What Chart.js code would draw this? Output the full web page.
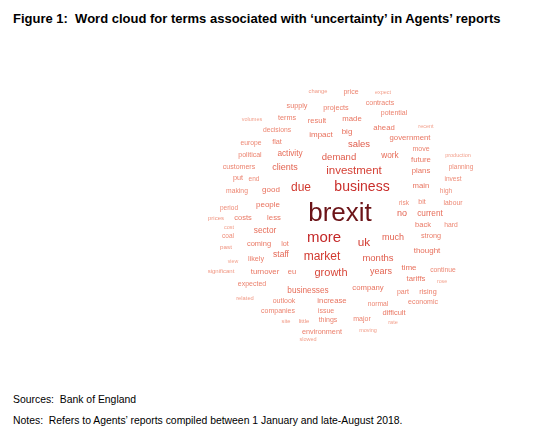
<!DOCTYPE html>
<html>
<head>
<meta charset="utf-8">
<script src="https://cdn.jsdelivr.net/npm/chart.js@4/dist/chart.umd.min.js"></script>
<style>
  body { margin: 0; background: #fff; font-family: "Liberation Sans", Arial, sans-serif; }
  #wrap { position: relative; width: 540px; height: 438px; overflow: hidden; }
  #title { position: absolute; left: 13px; top: 11px; font-size: 13px; font-weight: bold; color: #000; white-space: nowrap; }
  #cloud { position: absolute; left: 0; top: 40px; width: 540px; height: 340px; }
  .note { position: absolute; left: 13px; font-size: 10.4px; color: #000; white-space: nowrap; }
</style>
</head>
<body>
<div id="wrap">
  <div id="title">Figure 1:&nbsp; Word cloud for terms associated with ‘uncertainty’ in Agents’ reports</div>
  <div id="cloud"><canvas id="wordCloud"></canvas></div>
  <div class="note" style="top:394px">Sources:&nbsp; Bank of England</div>
  <div class="note" style="top:415px">Notes:&nbsp; Refers to Agents’ reports compiled between 1 January and late-August 2018.</div>
</div>
<script>
// terms and how often they turn up (relative weight), with their place in the cloud
const words = ["change","price","expect","supply","projects","contracts","potential","volumes","terms","result",
  "made","recent","ahead","decisions","big","impact","government","europe","flat","sales",
  "move","political","activity","production","work","demand","future","customers","clients","planning",
  "investment","plans","put","end","invest","making","good","due","business","main",
  "high","period","people","risk","bit","labour","brexit","prices","costs","less",
  "no","current","cost","back","hard","sector","coal","strong","much","more",
  "coming","lot","uk","past","thought","staff","market","months","likely","view",
  "time","continue","significant","turnover","eu","growth","years","tariffs","rose","expected",
  "businesses","company","part","rising","related","outlook","increase","normal","economic","companies",
  "issue","difficult","site","little","things","major","rate","environment","moving","slowed"];

const freq = [15,20,14,21,21,20,20,14,21,22,
  23,14,23,19,24,24,23,19,21,30,
  20,20,25,14,25,30,23,20,28,18,
  38,23,21,18,18,19,24,40,48,23,
  18,18,24,18,20,19,96,16,22,23,
  28,25,14,22,19,25,18,21,28,52,
  22,21,39,17,24,26,40,30,21,13,
  24,19,16,23,22,36,28,23,13,20,
  25,23,20,21,15,20,23,19,20,20,
  20,22,15,16,20,20,14,21,14,14];

const xPos = [-22,11,43,-43,-4,40,54,-88,-53,-23,
  12,86,44,-63,7,-19,70,-89,-63,19,
  81,-90,-50,118,50,-1,81,-101,-55,121,
  14,81,-102,-86,113,-103,-69,-39,22,81,
  106,-111,-72,64,82,113,0,-124,-97,-66,
  62,90,-111,83,111,-75,-112,91,53,-16,
  -81,-55,24,-114,87,-59,-18,38,-84,-107,
  69,103,-119,-75,-48,-9,41,76,102,-88,
  -32,28,63,88,-95,-56,-8,38,83,-62,
  -14,54,-54,-36,-12,22,53,-18,28,-32];

const yPos = [123,122,122,108,106,111,101,95,96,93,
  95,88,86,84,82,79,76,71,72,70,
  65,59,60,59,58,57,54,47,46,47,
  43,43,36,35,35,23,24,26,27,28,
  23,6,9,11,12,11,0,-4,-4,-4,
  0,0,-13,-11,-11,-17,-22,-22,-24,-24,
  -30,-30,-29,-33,-37,-41,-43,-44,-45,-48,
  -54,-56,-57,-58,-58,-59,-58,-65,-68,-70,
  -77,-74,-78,-78,-84,-87,-87,-90,-88,-97,
  -97,-99,-107,-107,-106,-105,-108,-118,-116,-125];

// font size and colour follow the weight
function fontSize(f) { return 2 + f * 0.25; }

const colourStops = [
  [12, [244, 168, 148]],
  [24, [232, 112, 92]],
  [40, [210, 58, 48]],
  [52, [196, 40, 40]],
  [96, [108, 20, 24]]
];
function colourFor(f) {
  if (f <= colourStops[0][0]) return 'rgb(' + colourStops[0][1].join(',') + ')';
  for (let i = 1; i < colourStops.length; i++) {
    const [f1, c1] = colourStops[i];
    const [f0, c0] = colourStops[i - 1];
    if (f <= f1) {
      const t = (f - f0) / (f1 - f0);
      const c = c0.map((v, k) => Math.round(v + (c1[k] - v) * t));
      return 'rgb(' + c.join(',') + ')';
    }
  }
  return 'rgb(' + colourStops[colourStops.length - 1][1].join(',') + ')';
}

const wordLabels = {
  id: 'wordLabels',
  afterDatasetsDraw(chart) {
    const ctx = chart.ctx;
    const meta = chart.getDatasetMeta(0);
    ctx.save();
    ctx.textAlign = 'center';
    ctx.textBaseline = 'middle';
    meta.data.forEach((pt, i) => {
      ctx.font = fontSize(freq[i]) + 'px "Liberation Sans", Arial, sans-serif';
      ctx.fillStyle = colourFor(freq[i]);
      ctx.fillText(words[i], pt.x, pt.y);
    });
    ctx.restore();
  }
};

const points = words.map((w, i) => ({ x: xPos[i], y: yPos[i] }));

new Chart(document.getElementById('wordCloud'), {
  type: 'scatter',
  data: {
    datasets: [{
      label: 'terms',
      data: points,
      pointRadius: 0,
      pointHoverRadius: 0
    }]
  },
  options: {
    responsive: true,
    maintainAspectRatio: false,
    animation: false,
    layout: { padding: 0 },
    plugins: { legend: { display: false }, tooltip: { enabled: false } },
    scales: {
      x: { type: 'linear', min: -340, max: 200, display: false },
      y: { type: 'linear', min: -166, max: 174, display: false }
    }
  },
  plugins: [wordLabels]
});
</script>
</body>
</html>
